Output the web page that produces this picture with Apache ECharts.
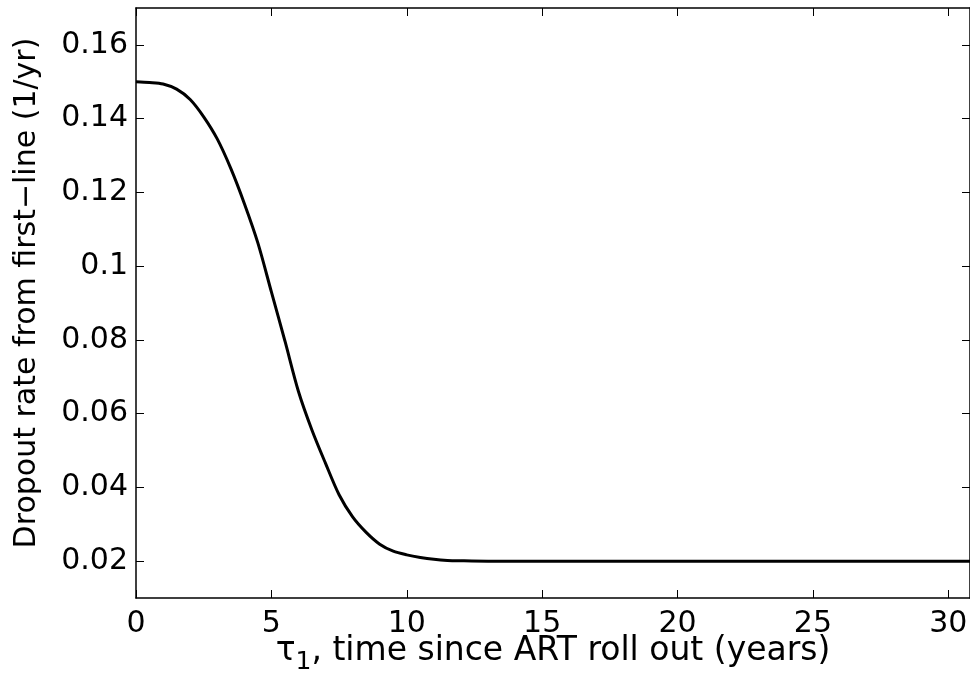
<!DOCTYPE html>
<html lang="en">
<head>
    <meta charset="UTF-8">
    <title>Dropout rate</title>
    <script src="https://cdn.jsdelivr.net/npm/echarts@6/dist/echarts.min.js"></script>
    <style>
        html, body { margin: 0; padding: 0; background: #fff; }
        #main { width: 970px; height: 675px; }
    </style>
</head>
<body>
<div id="main"></div>
<script>
    // data
    var years = [0, 0.5, 1, 1.5, 2, 2.5, 3, 3.5, 4, 4.5, 5, 5.5, 6, 6.5, 7, 7.5, 8, 8.5, 9, 9.5,
                 10, 10.5, 11, 11.5, 12, 13, 14, 15, 20, 25, 30, 30.8];
    var rates = [0.15, 0.1498, 0.1494, 0.148, 0.1452, 0.1405, 0.1345, 0.1265, 0.117, 0.1063, 0.093,
                 0.0797, 0.066, 0.0555, 0.0465, 0.038, 0.032, 0.0278, 0.0246, 0.0227,
                 0.0217, 0.021, 0.0205, 0.0202, 0.0201, 0.02, 0.02, 0.02, 0.02, 0.02, 0.02, 0.02];
    var xTicks = [0, 5, 10, 15, 20, 25, 30];
    var yTicks = [0.02, 0.04, 0.06, 0.08, 0.1, 0.12, 0.14, 0.16];

    var font = 'DejaVu Sans, Liberation Sans, Arial, sans-serif';
    var points = [];
    for (var i = 0; i < years.length; i++) {
        points.push([years[i], rates[i]]);
    }

    var myChart = echarts.init(document.getElementById('main'));
    var axisLine = { show: true, onZero: false, lineStyle: { color: '#000', width: 1.5 } };
    var option = {
        animation: false,
        backgroundColor: '#fff',
        grid: { left: 136, top: 8, right: 0, bottom: 77, containLabel: false, outerBoundsMode: 'none' },
        xAxis: [{
            type: 'value', min: 0, max: 30.8,
            axisLine: axisLine,
            axisTick: { inside: true, length: 8, lineStyle: { color: '#000' }, customValues: xTicks },
            axisLabel: { customValues: xTicks, color: '#000', fontSize: 30, fontFamily: font, margin: 11 },
            splitLine: { show: false },
            name: '{t|τ}{s|1}{t|, time since ART roll out (years)}',
            nameLocation: 'middle',
            nameGap: 30,
            nameMoveOverlap: false,
            nameTextStyle: {
                rich: {
                    t: { fontSize: 33, fontFamily: font, color: '#000' },
                    s: { fontSize: 25, fontFamily: font, color: '#000', padding: [22, 0, 0, 0] }
                }
            }
        }, {
            type: 'value', min: 0, max: 30.8, position: 'top',
            axisLine: axisLine,
            axisTick: { inside: true, length: 8, lineStyle: { color: '#000' }, customValues: xTicks },
            axisLabel: { show: false },
            splitLine: { show: false }
        }],
        yAxis: [{
            type: 'value', min: 0.01, max: 0.17,
            axisLine: axisLine,
            axisTick: { inside: true, length: 8, lineStyle: { color: '#000' }, customValues: yTicks },
            axisLabel: { customValues: yTicks, color: '#000', fontSize: 30, fontFamily: font, margin: 8 },
            splitLine: { show: false },
            name: 'Dropout rate from first\u2212line (1/yr)',
            nameLocation: 'middle',
            nameGap: 94,
            nameMoveOverlap: false,
            nameTextStyle: { fontSize: 30, fontFamily: font, color: '#000', padding: [0, 0, 0, 20] }
        }, {
            type: 'value', min: 0.01, max: 0.17, position: 'right',
            axisLine: axisLine,
            axisTick: { inside: true, length: 8, lineStyle: { color: '#000' }, customValues: yTicks },
            axisLabel: { show: false },
            splitLine: { show: false }
        }],
        series: [{
            type: 'line',
            data: points,
            smooth: 0.3,
            showSymbol: false,
            lineStyle: { color: '#000', width: 3 }
        }]
    };
    myChart.setOption(option);
</script>
</body>
</html>
